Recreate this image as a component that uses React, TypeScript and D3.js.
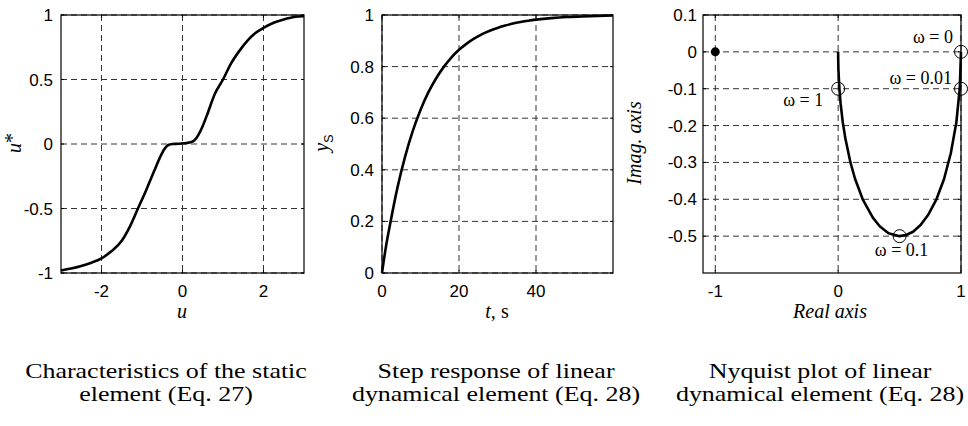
import React from 'react';
import * as d3 from 'd3';

// ---------- Data ----------
const staticU = [-3, -2.75, -2.5, -2.25, -2, -1.75, -1.5, -1.3, -1.1, -0.9, -0.7, -0.55, -0.45, -0.35, -0.25, -0.1, 0, 0.1, 0.2, 0.3, 0.4, 0.5, 0.6, 0.8, 1.0, 1.2, 1.4, 1.6, 1.8, 2.0, 2.25, 2.5, 2.75, 3];
const staticY = [-0.98, -0.965, -0.945, -0.92, -0.886, -0.83, -0.75, -0.64, -0.5, -0.36, -0.21, -0.1, -0.04, -0.008, 0, 0.002, 0.005, 0.008, 0.013, 0.03, 0.075, 0.14, 0.22, 0.39, 0.5, 0.625, 0.72, 0.8, 0.86, 0.9, 0.94, 0.965, 0.985, 0.99];

const stepT = [0, 1, 2, 4, 6, 8, 10, 12, 14, 16, 18, 20, 22, 24, 26, 28, 30, 32, 34, 36, 38, 40, 44, 48, 52, 56, 60];
const stepY = [0, 0.1, 0.181, 0.33, 0.451, 0.551, 0.632, 0.699, 0.753, 0.798, 0.835, 0.865, 0.889, 0.909, 0.926, 0.939, 0.95, 0.959, 0.967, 0.973, 0.978, 0.982, 0.988, 0.992, 0.994, 0.996, 0.998];

const nyqRe = [1, 0.99, 0.962, 0.917, 0.862, 0.8, 0.735, 0.671, 0.61, 0.552, 0.5, 0.41, 0.338, 0.281, 0.2, 0.138, 0.1, 0.059, 0.038, 0.02, 0.01, 0.0025, 0.0004, 0];
const nyqIm = [0, -0.099, -0.192, -0.275, -0.345, -0.4, -0.441, -0.47, -0.488, -0.497, -0.5, -0.492, -0.473, -0.449, -0.4, -0.345, -0.3, -0.235, -0.192, -0.14, -0.099, -0.05, -0.02, 0];

const markerRe = [1, 1, 0.5, 0];
const markerIm = [0, -0.1, -0.5, -0.1];
const markerLabels = ['ω = 0', 'ω = 0.01', 'ω = 0.1', 'ω = 1'];
const criticalPoint = [-1, 0];

const p1XTicks = [-2, 0, 2];
const p1YTicks = [-1, -0.5, 0, 0.5, 1];
const p2XTicks = [0, 20, 40];
const p2YTicks = [0, 0.2, 0.4, 0.6, 0.8, 1];
const p3XTicks = [-1, 0, 1];
const p3YTicks = [-0.5, -0.4, -0.3, -0.2, -0.1, 0, 0.1];

const captions = [
  ['Characteristics of the static', 'element (Eq. 27)'],
  ['Step response of linear', 'dynamical element (Eq. 28)'],
  ['Nyquist plot of linear', 'dynamical element (Eq. 28)'],
];

// ---------- Layout ----------
const TOP = 15;
const BOTTOM = 273;
const SANS = '"Liberation Sans", Arial, sans-serif';
const SERIF = '"Liberation Serif", "Times New Roman", serif';

type PanelProps = {
  x0: number; x1: number;
  xDomain: [number, number]; yDomain: [number, number];
  xTicks: number[]; yTicks: number[];
  labelGap: number;
  children: (x: d3.ScaleLinear<number, number>, y: d3.ScaleLinear<number, number>) => React.ReactNode;
};

function fmt(v: number) {
  return String(Math.round(v * 100) / 100);
}

function Panel({ x0, x1, xDomain, yDomain, xTicks, yTicks, labelGap, children }: PanelProps) {
  const x = d3.scaleLinear().domain(xDomain).range([x0, x1]);
  const y = d3.scaleLinear().domain(yDomain).range([BOTTOM, TOP]);
  const gridStyle = { stroke: '#333', strokeWidth: 1, strokeDasharray: '6,4' };
  return (
    <g>
      {xTicks.map((t) => (
        <line key={'gx' + t} x1={x(t)} x2={x(t)} y1={TOP} y2={BOTTOM} style={gridStyle} />
      ))}
      {yTicks.map((t) => (
        <line key={'gy' + t} x1={x0} x2={x1} y1={y(t)} y2={y(t)} style={gridStyle} />
      ))}
      {xTicks.map((t) => (
        <g key={'tx' + t}>
          <line x1={x(t)} x2={x(t)} y1={BOTTOM} y2={BOTTOM - 3} stroke="#000" />
          <line x1={x(t)} x2={x(t)} y1={TOP} y2={TOP + 3} stroke="#000" />
          <text x={x(t)} y={BOTTOM + 24} textAnchor="middle" fontFamily={SANS} fontSize={17} fill="#000">
            {fmt(t)}
          </text>
        </g>
      ))}
      {yTicks.map((t) => (
        <g key={'ty' + t}>
          <line x1={x0} x2={x0 + 3} y1={y(t)} y2={y(t)} stroke="#000" />
          <line x1={x1} x2={x1 - 3} y1={y(t)} y2={y(t)} stroke="#000" />
          <text x={x0 - labelGap} y={y(t) + 6} textAnchor="end" fontFamily={SANS} fontSize={17} fill="#000">
            {fmt(t)}
          </text>
        </g>
      ))}
      {children(x, y)}
      <rect x={x0} y={TOP} width={x1 - x0} height={BOTTOM - TOP} fill="none" stroke="#000" strokeWidth={1.2} />
    </g>
  );
}

export default function App() {
  const staticData = staticU.map((u, i) => [u, staticY[i]] as [number, number]);
  const stepData = stepT.map((t, i) => [t, stepY[i]] as [number, number]);
  const nyqData = nyqRe.map((r, i) => [r, nyqIm[i]] as [number, number]);

  const capCenters = [166, 496, 820];

  return (
    <svg width={968} height={426} style={{ position: 'absolute', left: 0, top: 0, background: '#fff' }}>
      <rect x={0} y={0} width={968} height={426} fill="#fff" />
      {/* Panel 1 */}
      <Panel x0={61} x1={304} xDomain={[-3, 3]} yDomain={[-1, 1]} xTicks={p1XTicks} yTicks={p1YTicks} labelGap={8}>
        {(x, y) => {
          const line = d3.line<[number, number]>().x((d) => x(d[0])).y((d) => y(d[1])).curve(d3.curveMonotoneX);
          return <path d={line(staticData) || ''} fill="none" stroke="#000" strokeWidth={2.6} />;
        }}
      </Panel>
      {/* Panel 2 */}
      <Panel x0={382} x1={613} xDomain={[0, 60]} yDomain={[0, 1]} xTicks={p2XTicks} yTicks={p2YTicks} labelGap={8}>
        {(x, y) => {
          const line = d3.line<[number, number]>().x((d) => x(d[0])).y((d) => y(d[1])).curve(d3.curveMonotoneX);
          return <path d={line(stepData) || ''} fill="none" stroke="#000" strokeWidth={2.6} />;
        }}
      </Panel>
      {/* Panel 3 */}
      <Panel x0={703} x1={961} xDomain={[-1.1, 1]} yDomain={[-0.6, 0.1]} xTicks={p3XTicks} yTicks={p3YTicks} labelGap={6}>
        {(x, y) => {
          const line = d3.line<[number, number]>().x((d) => x(d[0])).y((d) => y(d[1]));
          const labelPos: [number, number, string][] = [
            [x(markerRe[0]) - 8, y(markerIm[0]) - 9, 'end'],
            [x(markerRe[1]) - 9, y(markerIm[1]) - 5, 'end'],
            [x(markerRe[2]) + 2, y(markerIm[2]) + 20, 'middle'],
            [x(markerRe[3]) - 15, y(markerIm[3]) + 17, 'end'],
          ];
          return (
            <g>
              <path d={line(nyqData) || ''} fill="none" stroke="#000" strokeWidth={2.6} strokeLinejoin="round" />
              <circle cx={x(criticalPoint[0])} cy={y(criticalPoint[1])} r={4.5} fill="#000" />
              {markerRe.map((r, i) => (
                <circle key={'m' + i} cx={x(r)} cy={y(markerIm[i])} r={6.5} fill="none" stroke="#000" strokeWidth={1} />
              ))}
              {markerLabels.map((s, i) => (
                <text key={'ml' + i} x={labelPos[i][0]} y={labelPos[i][1]} textAnchor={labelPos[i][2] as any} fontFamily={SERIF} fontSize={18} fill="#000">
                  {s}
                </text>
              ))}
            </g>
          );
        }}
      </Panel>

      {/* Axis labels */}
      <text x={182} y={318} textAnchor="middle" fontFamily={SERIF} fontStyle="italic" fontSize={20}>u</text>
      <text transform="translate(21,143) rotate(-90)" textAnchor="middle" fontFamily={SERIF} fontSize={20}>
        <tspan fontStyle="italic">u</tspan><tspan dy={-2}>*</tspan>
      </text>
      <text x={497} y={318} textAnchor="middle" fontFamily={SERIF} fontSize={20}>
        <tspan fontStyle="italic">t,</tspan><tspan> s</tspan>
      </text>
      <text transform="translate(328,143) rotate(-90)" textAnchor="middle" fontFamily={SERIF} fontSize={20}>
        <tspan fontStyle="italic">y</tspan><tspan fontFamily={SANS} fontSize={13} dy={5}>S</tspan>
      </text>
      <text x={830} y={318} textAnchor="middle" fontFamily={SERIF} fontStyle="italic" fontSize={20}>Real axis</text>
      <text transform="translate(641,143) rotate(-90)" textAnchor="middle" fontFamily={SERIF} fontStyle="italic" fontSize={20}>Imag. axis</text>

      {/* Captions */}
      {captions.map((c, i) => (
        <g key={'cap' + i}>
          {c.map((line, j) => (
            <text
              key={j}
              transform={`translate(${capCenters[i]},${378 + j * 23}) scale(1.18,1)`}
              textAnchor="middle"
              fontFamily={SERIF}
              fontSize={22}
              fill="#000"
            >
              {line}
            </text>
          ))}
        </g>
      ))}
    </svg>
  );
}
